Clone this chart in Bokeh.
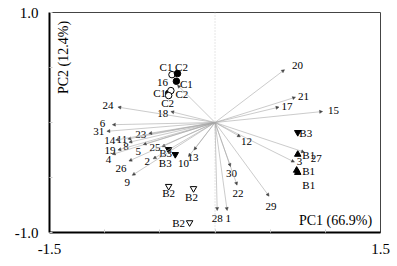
import math
import numpy as np
from bokeh.plotting import figure
from bokeh.models import (ColumnDataSource, Range1d, FixedTicker, Span, Label,
                          Arrow, NormalHead)
from bokeh.core.properties import value
from bokeh.embed import file_html
from bokeh.resources import INLINE

# ---- loading vectors (variables) ----
var_names = ["1", "2", "3", "4", "5", "6", "8", "9", "10", "11", "12", "13", "14", "15",
             "16", "17", "18", "19", "20", "21", "22", "23", "24", "25", "26", "27",
             "28", "29", "30", "31"]
var_pc1 = [0.11, -0.56, 0.72, -0.93, -0.65, -0.93, -0.78, -0.75, -0.24, -0.79, 0.23, -0.19,
           -0.90, 0.975, -0.34, 0.58, -0.40, -0.88, 0.63, 0.73, 0.20, -0.60, -0.88, -0.48,
           -0.78, 0.81, 0.02, 0.49, 0.14, -0.98]
var_pc2 = [-0.80, -0.33, -0.36, -0.29, -0.20, -0.02, -0.18, -0.48, -0.31, -0.15, -0.13, -0.25,
           -0.16, 0.10, 0.34, 0.14, 0.10, -0.25, 0.48, 0.23, -0.57, -0.10, 0.14, -0.22,
           -0.35, -0.27, -0.80, -0.67, -0.40, -0.08]
# label offsets in screen pixels (dx right, dy down)
var_dx = [1, -6, 5, -4, -5, -10, -3, -5, -5, -6, 6, -1, -6, 11, -15, 8, -8, -8, 13, 8,
          1, -8, -10, -7, -8, 12, 0, 2, 1, -8]
var_dy = [8, 3, -1, 5, 7, -1, 4, 7, 7, 0, 5, 7, 0, -1, -3, -1, 2, 0, -4, -1,
          8, 1, -2, 1, 7, 6, 8, 10, 7, 0]

# ---- sample scores ----
score_labels = ["C1", "C2", "C1", "C1", "C2", "C2",
                "B3", "B3", "B3",
                "B1", "B1", "B1",
                "B2", "B2", "B2"]
score_pc1 = [-0.39, -0.34, -0.35, -0.42, -0.40, -0.42,
             -0.42, -0.36, 0.75,
             0.75, 0.74, 0.75,
             -0.42, -0.195, -0.23]
score_pc2 = [0.435, 0.445, 0.375, 0.265, 0.29, 0.245,
             -0.245, -0.29, -0.09,
             -0.29, -0.435, -0.455,
             -0.58, -0.60, -0.91]
score_marker = ["circle", "circle", "circle", "circle", "circle", "circle",
                "inverted_triangle", "inverted_triangle", "inverted_triangle",
                "triangle", "triangle", "triangle",
                "inverted_triangle", "inverted_triangle", "inverted_triangle"]
score_filled = [False, True, True, True, False, False,
                True, True, True,
                True, True, True,
                False, False, False]
score_dx = [-6, 4, 10, -9, 11, -1, -3, -10, 8, 11, 12, 11, 0, -2, -11]
score_dy = [-8, -7, 3, 0, 3, 7, 4, 9, 1, 1, 1, 12, 7, 8, 0]

x_ticks = [-1.5, 1.5]
y_ticks = [-1.0, 1.0]
minor_ticks = [-1.0, -0.5, 0.0, 0.5, 1.0]
x_title = "PC1 (66.9%)"
y_title = "PC2 (12.4%)"

FONT = "Liberation Serif"
W, H = 397, 266
L, R, T, B = 49, 17, 12, 34
px_x = 3.0 / (W - L - R)   # data units per pixel
px_y = 2.0 / (H - T - B)

p = figure(width=W, height=H, output_backend="svg", toolbar_location=None,
           x_range=Range1d(-1.5, 1.5), y_range=Range1d(-1.0, 1.0),
           min_border_left=L, min_border_right=R, min_border_top=T, min_border_bottom=B)
p.grid.visible = False
p.outline_line_color = "#444444"
p.outline_line_width = 1
p.background_fill_color = "white"
p.border_fill_color = "white"

for ax, ticks in ((p.xaxis[0], x_ticks), (p.yaxis[0], y_ticks)):
    ax.ticker = FixedTicker(ticks=ticks, minor_ticks=minor_ticks)
    ax.axis_line_width = 2
    ax.axis_line_color = "black"
    ax.major_tick_line_color = None
    ax.minor_tick_line_color = "#cccccc"
    ax.minor_tick_in = 3
    ax.minor_tick_out = 0
    ax.major_label_text_font = FONT
    ax.major_label_text_font_size = "15px"
    ax.major_label_text_color = "black"
    ax.major_label_standoff = 5
p.yaxis[0].major_label_overrides = {-1.0: "-1.0", 1.0: "1.0"}
p.xaxis[0].major_label_overrides = {-1.5: "-1.5", 1.5: "1.5"}

p.add_layout(Span(location=0, dimension="height", line_color="#cccccc",
                  line_dash="1 2", line_width=1))

# arrows
n = len(var_names)
asrc = ColumnDataSource(dict(x0=[0.0] * n, y0=[0.0] * n, x1=var_pc1, y1=var_pc2))
p.add_layout(Arrow(source=asrc, x_start="x0", y_start="y0", x_end="x1", y_end="y1",
                   line_color="#a8a8a8", line_width=0.6,
                   end=NormalHead(size=3, fill_color="#444444", line_color="#444444",
                                  line_width=0.5)))

vx = np.array(var_pc1) + np.array(var_dx) * px_x
vy = np.array(var_pc2) - np.array(var_dy) * px_y
p.text(x=vx, y=vy, text=var_names, text_font=value(FONT), text_font_size="11px",
       text_align="center", text_baseline="middle", text_color="black")

# scores
fill = ["black" if f else "white" for f in score_filled]
ssrc = ColumnDataSource(dict(x=score_pc1, y=score_pc2, m=score_marker, f=fill))
p.scatter(x="x", y="y", marker="m", source=ssrc, size=6.5, fill_color="f",
          line_color="black", line_width=1)
sx = np.array(score_pc1) + np.array(score_dx) * px_x
sy = np.array(score_pc2) - np.array(score_dy) * px_y
p.text(x=sx, y=sy, text=score_labels, text_font=value(FONT), text_font_size="11px",
       text_align="center", text_baseline="middle", text_color="black")

# axis titles inside the frame
p.add_layout(Label(x=-1.5 + 14 * px_x, y=1.0 - 45 * px_y, text=y_title, angle=math.pi / 2,
                   text_font=FONT, text_font_size="14px", text_align="center",
                   text_baseline="middle", text_color="black"))
p.add_layout(Label(x=1.5 - 45 * px_x, y=-1.0 + 12 * px_y, text=x_title,
                   text_font=FONT, text_font_size="14px", text_align="center",
                   text_baseline="middle", text_color="black"))

open("out.html", "w").write(file_html(p, INLINE))
